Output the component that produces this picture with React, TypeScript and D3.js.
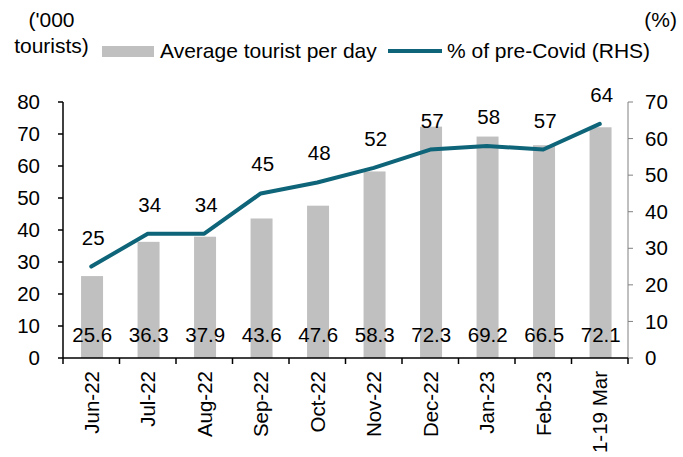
import React from "react";
import * as d3 from "d3";

const categories = ["Jun-22", "Jul-22", "Aug-22", "Sep-22", "Oct-22", "Nov-22", "Dec-22", "Jan-23", "Feb-23", "1-19 Mar"];
const touristsPerDay = [25.6, 36.3, 37.9, 43.6, 47.6, 58.3, 72.3, 69.2, 66.5, 72.1];
const pctPreCovid = [25, 34, 34, 45, 48, 52, 57, 58, 57, 64];
const leftTicks = [0, 10, 20, 30, 40, 50, 60, 70, 80];
const rightTicks = [0, 10, 20, 30, 40, 50, 60, 70];

const W = 683, H = 457;
const L = 63, R = 628, T = 102, B = 358;
const FONT = "'Liberation Sans', Arial, sans-serif";
const LINE_COLOR = "#0E6478";
const BAR_COLOR = "#C0C0C0";
const FS = 20.5;
const FS_LEG = 21;

export default function App() {
  const x = d3.scaleBand<string>().domain(categories).range([L, R]).padding(0);
  const yL = d3.scaleLinear().domain([0, 80]).range([B, T]);
  const yR = d3.scaleLinear().domain([0, 70]).range([B, T]);
  const bw = 22;
  const cx = (c: string) => (x(c) as number) + x.bandwidth() / 2;
  const line = d3
    .line<number>()
    .x((_, i) => cx(categories[i]))
    .y((d) => yR(d));
  const boundaries = d3.range(categories.length + 1).map((i) => L + i * x.bandwidth());

  return (
    <svg width={W} height={H} style={{ position: "absolute", left: 0, top: 0, background: "#fff" }} fontFamily={FONT}>
      {/* axis titles */}
      <text x={51.5} y={27} fontSize={FS_LEG} textAnchor="middle" fill="#000">('000</text>
      <text x={51.5} y={53} fontSize={FS_LEG} textAnchor="middle" fill="#000">tourists)</text>
      <text x={677} y={27} fontSize={FS_LEG} textAnchor="end" fill="#000">(%)</text>

      {/* legend */}
      <rect x={102} y={46} width={52} height={11} fill={BAR_COLOR} />
      <text x={160} y={58} fontSize={FS_LEG} fill="#000">Average tourist per day</text>
      <line x1={388} x2={442} y1={51} y2={51} stroke={LINE_COLOR} strokeWidth={4} />
      <text x={447} y={58} fontSize={FS_LEG} fill="#000">% of pre-Covid (RHS)</text>

      {/* bars */}
      {categories.map((c, i) => (
        <rect key={c} x={cx(c) - bw / 2 + 0.8} y={yL(touristsPerDay[i])} width={bw} height={B - yL(touristsPerDay[i])} fill={BAR_COLOR} />
      ))}

      {/* left axis */}
      <line x1={L} x2={L} y1={T} y2={B} stroke="#000" strokeWidth={1.5} />
      {leftTicks.map((t) => (
        <g key={t}>
          <line x1={L - 5} x2={L} y1={yL(t)} y2={yL(t)} stroke="#000" strokeWidth={1.5} />
          <text x={40} y={yL(t)} dy="0.35em" fontSize={FS} textAnchor="end" fill="#000">{t}</text>
        </g>
      ))}

      {/* right axis */}
      <line x1={R} x2={R} y1={T} y2={B} stroke="#808080" strokeWidth={1} />
      {rightTicks.map((t) => (
        <g key={t}>
          <line x1={R} x2={R + 5} y1={yR(t)} y2={yR(t)} stroke="#808080" strokeWidth={1} />
          <text x={645} y={yR(t)} dy="0.35em" fontSize={FS} textAnchor="start" fill="#000">{t}</text>
        </g>
      ))}

      {/* x axis */}
      <line x1={L} x2={R} y1={B} y2={B} stroke="#000" strokeWidth={1.5} />
      {boundaries.map((b, i) => (
        <line key={i} x1={b} x2={b} y1={B} y2={B + 6} stroke="#000" strokeWidth={1.5} />
      ))}
      {categories.map((c) => (
        <text key={c} transform={`translate(${cx(c) + 0.5},371) rotate(-90)`} dy="0.35em" fontSize={FS} textAnchor="end" fill="#000">{c}</text>
      ))}

      {/* line */}
      <path d={line(pctPreCovid) as string} fill="none" stroke={LINE_COLOR} strokeWidth={4} strokeLinejoin="round" strokeLinecap="round" />

      {/* line labels */}
      {categories.map((c, i) => (
        <text key={c} x={cx(c) + 2} y={yR(pctPreCovid[i]) - 22} fontSize={FS} textAnchor="middle" fill="#000">{pctPreCovid[i]}</text>
      ))}

      {/* bar labels */}
      {categories.map((c, i) => (
        <text key={c} x={cx(c) + 1} y={342} fontSize={FS} textAnchor="middle" fill="#000">{touristsPerDay[i]}</text>
      ))}
    </svg>
  );
}
